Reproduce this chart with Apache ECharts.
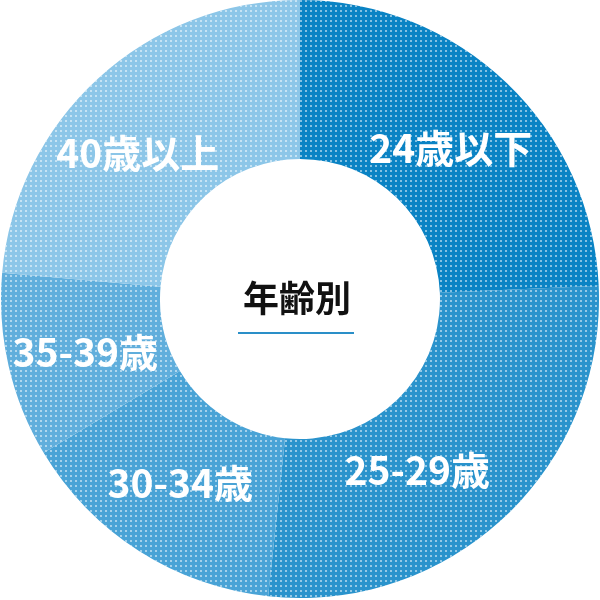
<!DOCTYPE html>
<html><head><meta charset="utf-8">
<script src="https://cdn.jsdelivr.net/npm/echarts@6/dist/echarts.min.js"></script>
<style>html,body{margin:0;padding:0;background:#fff}#c{width:600px;height:600px}</style>
</head><body><div id="c"></div>
<script>
const categories = ['24歳以下', '25-29歳', '30-34歳', '35-39歳', '40歳以上'];
const values = [24.3, 27.4, 14.7, 10.0, 23.6];
const colors = ['#0a83c4', '#2a93cc', '#49a3d6', '#60aedc', '#8cc6e8'];
const centerTitle = '年齢別';

const labelOffsets = [[-3, 10], [-35, 9], [0, -3], [2, 3], [-12, 18]];
const chart = echarts.init(document.getElementById('c'));
chart.setOption({
  animation: false,
  graphic: [{
    type: 'text', x: 297, y: 298,
    style: {
      text: centerTitle, align: 'center', verticalAlign: 'middle',
      fontFamily: 'Noto Sans CJK JP', fontWeight: 'bold', fontSize: 36, fill: '#111'
    }
  }, {
    type: 'rect', shape: { x: 238, y: 332, width: 116, height: 2 },
    style: { fill: '#2a8fc8' }
  }],
  series: [{
    type: 'pie',
    center: [300, 299],
    radius: [140, 299],
    startAngle: 90,
    clockwise: true,
    avoidLabelOverlap: false,
    itemStyle: { borderWidth: 0 },
    label: {
      show: true, position: 'inside', color: '#fff',
      fontFamily: 'Noto Sans CJK JP', fontWeight: 'bold', fontSize: 39,
      formatter: '{b}'
    },
    labelLine: { show: false },
    emphasis: { disabled: true },
    data: categories.map((n, i) => ({
      name: n, value: values[i],
      label: { offset: labelOffsets[i] },
      itemStyle: {
        color: colors[i],
        decal: { symbol: 'rect', symbolSize: 1, dashArrayX: [2, 2.3], dashArrayY: [2, 2.3], color: 'rgba(255,255,255,0.5)' }
      }
    }))
  }]
});
</script></body></html>
